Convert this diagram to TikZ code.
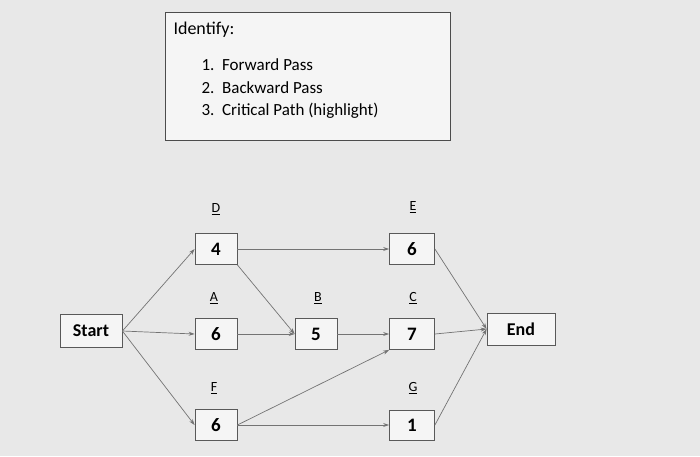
\documentclass[tikz,border=0pt]{standalone}
\usepackage{fontspec}
\setmainfont{Carlito}
\usetikzlibrary{arrows.meta}
\begin{document}
\begin{tikzpicture}[x=1pt,y=-1pt,
  bx/.style={draw=black!65,line width=0.8pt,fill=black!4,minimum width=42pt,minimum height=31pt,inner sep=0pt,font=\bfseries\fontsize{19}{19}\selectfont},
  lbl/.style={font=\fontsize{14}{14}\selectfont,inner sep=1pt},
  itm/.style={anchor=west,font=\fontsize{17}{17}\selectfont},
  ar/.style={draw=black!55,line width=0.7pt,-{Stealth[length=6pt,width=4pt]}}]
\fill[black!9] (0,0) rectangle (700,456);
\useasboundingbox (0,0) rectangle (700,456);
\node[draw=black!70,line width=0.8pt,fill=black!4,minimum width=285pt,minimum height=128pt,anchor=north west] (idbox) at (165,12) {};
\node[anchor=west,font=\fontsize{18}{18}\selectfont] (idt) at (170,30) {Identify:};
\node[itm] (i1) at (198,65) {1.\ \ Forward Pass};
\node[itm] (i2) at (198,88) {2.\ \ Backward Pass};
\node[itm] (i3) at (198,111) {3.\ \ Critical Path (highlight)};

\node[bx,minimum width=62pt,minimum height=33pt,font=\bfseries\fontsize{18}{18}\selectfont] (start) at (91,331) {Start};
\node[bx,minimum width=68pt,minimum height=32pt,font=\bfseries\fontsize{18}{18}\selectfont] (end) at (521,329) {End};
\node[bx] (D) at (216,249) {4};
\node[bx] (A) at (216,334) {6};
\node[bx] (F) at (216,425) {6};
\node[bx] (B) at (316,334) {5};
\node[bx,minimum width=45pt] (E) at (412,249) {6};
\node[bx,minimum width=45pt] (C) at (412,334) {7};
\node[bx,minimum width=45pt,minimum height=30pt] (G) at (412,425) {1};

\node[lbl] (lD) at (216,209) {\underline{D}};
\node[lbl] (lA) at (214,298) {\underline{A}};
\node[lbl] (lF) at (214,388) {\underline{F}};
\node[lbl] (lB) at (318,298) {\underline{B}};
\node[lbl] (lE) at (413,207) {\underline{E}};
\node[lbl] (lC) at (413,298) {\underline{C}};
\node[lbl] (lG) at (413,388) {\underline{G}};

\coordinate (so) at (start.east);
\draw[ar] (so) -- (D.west);
\draw[ar] (so) -- (A.west);
\draw[ar] (so) -- (F.west);
\draw[ar] (D.east) -- (E.west);
\draw[ar] (D.south east) -- (B.west);
\draw[ar] (A.east) -- (B.west);
\draw[ar] (B.east) -- (C.west);
\draw[ar] (F.east) -- (C.south west);
\draw[ar] (F.east) -- (G.west);
\draw[ar] (E.east) -- (end.west);
\draw[ar] (C.east) -- (end.west);
\draw[ar] (G.east) -- (end.west);
\end{tikzpicture}
\end{document}
